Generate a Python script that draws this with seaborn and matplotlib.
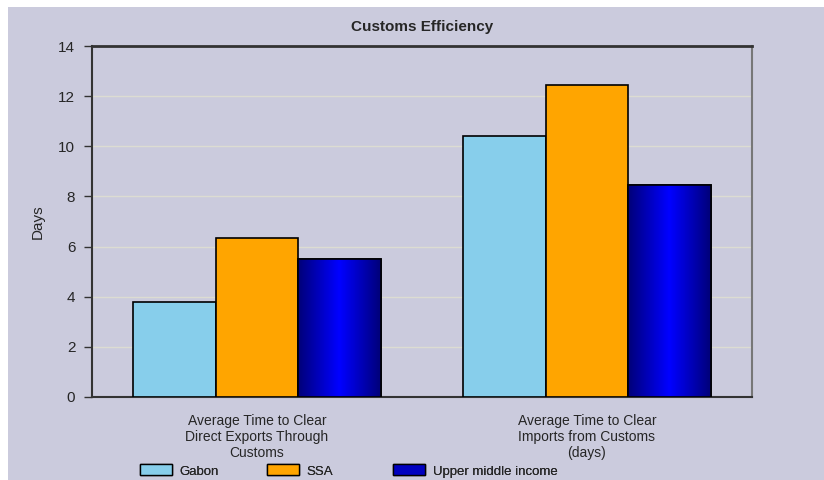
import numpy as np
import pandas as pd
import matplotlib
matplotlib.use("Agg")
import matplotlib.pyplot as plt
import seaborn as sns
from matplotlib.patches import Rectangle
from matplotlib.colors import LinearSegmentedColormap

categories = ["Average Time to Clear\nDirect Exports Through\nCustoms",
              "Average Time to Clear\nImports from Customs\n(days)"]
series = ["Gabon", "SSA", "Upper middle income"]
gabon = [3.8, 10.4]
ssa = [6.35, 12.45]
umi = [5.5, 8.45]
yticks = [0, 2, 4, 6, 8, 10, 12, 14]

df = pd.DataFrame({
    "cat": categories * 3,
    "series": [s for s in series for _ in categories],
    "val": gabon + ssa + umi,
})

sns.set_theme(style="white")
plt.rcParams['font.family'] = ['Liberation Sans', 'DejaVu Sans']

bg = "#cbcbdd"
fig = plt.figure(figsize=(8.24, 4.8), dpi=100, facecolor="white")
fig.patches.append(Rectangle((8/824, 0), 1, 473/480, transform=fig.transFigure,
                             facecolor=bg, edgecolor="none", zorder=-10))
ax = fig.add_axes([92/824, 1-397/480, (752-92)/824, (397-46)/480])
ax.set_facecolor(bg)

palette = {"Gabon": "#87ceeb", "SSA": "#ffa500", "Upper middle income": "#0000c0"}
sns.barplot(data=df, x="cat", y="val", hue="series", palette=palette,
            order=categories, hue_order=series, width=0.75,
            edgecolor="black", linewidth=1.2, saturation=1, ax=ax, legend=False,
            zorder=3)

# gradient on the dark-blue bars
cont = ax.containers[2]
grad = np.linspace(0, 1, 64)
grad = 1 - np.abs(grad - 0.5) * 2
cmap = LinearSegmentedColormap.from_list("b", ["#00007a", "#0000ff"])
for p in cont:
    x0, y0 = p.get_x(), p.get_y()
    w, h = p.get_width(), p.get_height()
    im = ax.imshow(grad[None, :], cmap=cmap, aspect="auto",
                   extent=[x0, x0 + w, y0, y0 + h], zorder=3.5)
    im.set_clip_path(p)
    ax.add_patch(Rectangle((x0, y0), w, h, fill=False, edgecolor="black",
                           linewidth=1.2, zorder=4))

ax.set_xlim(-0.5, 1.5)
ax.set_ylim(0, 14)
ax.set_yticks(yticks)
ax.set_yticklabels([str(t) for t in yticks], fontsize=11)
ax.tick_params(axis="y", left=True, length=6, width=1, color="#333333", pad=6)
ax.tick_params(axis="x", bottom=False, pad=6)
for lbl in ax.get_xticklabels():
    lbl.set_fontsize(10)
ax.yaxis.grid(True, color="#dcdcd2", linewidth=1)
ax.set_axisbelow(True)
ax.set_xlabel("")
ax.set_ylabel("Days", fontsize=11, labelpad=10)
for s in ["left", "bottom"]:
    ax.spines[s].set_color("#333333")
    ax.spines[s].set_linewidth(1.5)
ax.spines["top"].set_color("#333333")
ax.spines["top"].set_linewidth(2)
ax.spines["right"].set_color("#777777")
ax.spines["right"].set_linewidth(1.5)

fig.text(422/824, 1-27/480, "Customs Efficiency", ha="center", va="center",
         fontsize=11, fontweight="bold")

# legend entries placed individually to match the reference spacing
leg_x = [140, 267, 393]
for s, lx in zip(series, leg_x):
    h = Rectangle((0, 0), 1, 1, facecolor=palette[s], edgecolor="black")
    lg = fig.legend([h], [s], loc="center left", bbox_to_anchor=(lx/824, 1-471/480),
                    frameon=False, fontsize=9.5, handlelength=2.4, handleheight=0.9,
                    handletextpad=0.6, borderpad=0, borderaxespad=0)
    fig.add_artist(lg)

fig.savefig("out.png", dpi=100, facecolor="white")
